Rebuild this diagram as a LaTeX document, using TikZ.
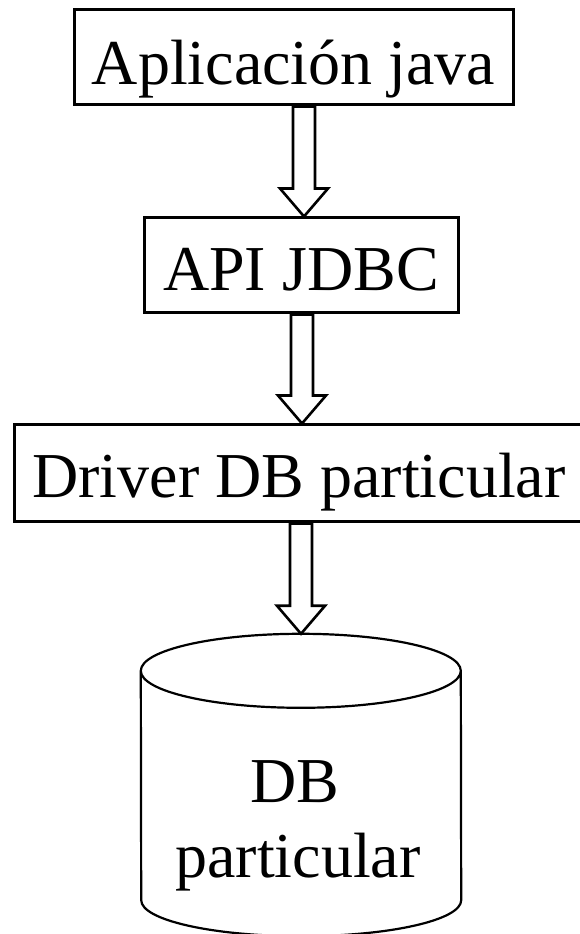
\documentclass[tikz,border=0pt]{standalone}
\usepackage{fontspec}
\setmainfont{Liberation Serif}
\usetikzlibrary{calc}
\tikzset{
  boxnode/.style={draw, line width=3pt, inner sep=0pt, anchor=base, font=\fontsize{64}{75}\selectfont},
  blk/.style={draw, line width=2.6pt, line join=miter},
  cyl/.style={draw, line width=2.2pt},
  txt/.style={inner sep=0pt, anchor=base, font=\fontsize{64}{75}\selectfont},
}
\newcommand{\blockarr}[3]{%
  \draw[blk] let \p1=(#1.south), \p2=(#2.north) in
    ({#3pt-11pt},\y1) -- ({#3pt-11pt},{\y2+28pt}) -- ({#3pt-24pt},{\y2+28pt}) -- ({#3pt},\y2)
    -- ({#3pt+24pt},{\y2+28pt}) -- ({#3pt+11pt},{\y2+28pt}) -- ({#3pt+11pt},\y1) -- cycle;}
\begin{document}
\begin{tikzpicture}[x=1pt,y=1pt]
  \fill[white] (0,0) rectangle (579,934);
  \useasboundingbox (0,0) rectangle (579,934);
  \node[boxnode, minimum width=439pt, text height=75pt, text depth=20pt] (app) at (293.5,849) {Aplicación java};
  \node[boxnode, minimum width=314pt, text height=73pt, text depth=22pt] (api) at (301,643) {API JDBC};
  \node[boxnode, minimum width=599pt, text height=73pt, text depth=24pt] (drv) at (314,436) {Driver DB particular\hspace*{30pt}};
  \node[inner sep=0pt, minimum width=320pt, minimum height=302pt] (db) at (301,149) {};
  \draw[cyl] let \p1=(db.north west), \p2=(db.south east) in
    (\x1,{\y1-37pt}) arc[start angle=180, end angle=0, x radius=160pt, y radius=37pt]
    -- (\x2,{\y2+36pt}) arc[start angle=0, end angle=-180, x radius=160pt, y radius=36pt] -- cycle
    (\x1,{\y1-37pt}) arc[start angle=180, end angle=360, x radius=160pt, y radius=37pt];
  \node[txt] (dbt1) at (295,131) {DB};
  \node[txt] (dbt2) at (298,56) {particular};
  \blockarr{app}{api}{304}
  \blockarr{api}{drv}{302}
  \blockarr{drv}{db}{301}
\end{tikzpicture}
\end{document}
